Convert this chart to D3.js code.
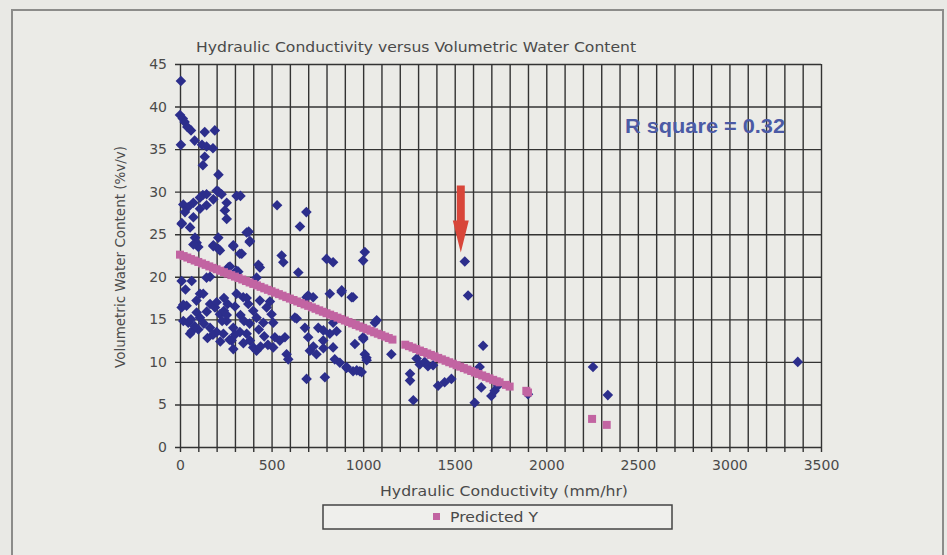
<!DOCTYPE html>
<html><head><meta charset="utf-8">
<script src="https://cdn.jsdelivr.net/npm/d3@7"></script>
<style>body{margin:0;background:#e9e9e5;overflow:hidden}</style>
</head><body>
<svg id="c" width="947" height="555"></svg>
<script>
// ---- data ----
const chartTitle = "Hydraulic Conductivity versus Volumetric Water Content";
const xTitle = "Hydraulic Conductivity (mm/hr)";
const yTitle = "Volumetric Water Content (%v/v)";
const legendLabel = "Predicted Y";
const annotation = "R square = 0.32";
const xTickLabels = [0, 500, 1000, 1500, 2000, 2500, 3000, 3500];
const yTickLabels = [0, 5, 10, 15, 20, 25, 30, 35, 40, 45];
const arrowTarget = [1555, 21.8];

// measured points [conductivity mm/hr, water content %v/v]
const measured = [
[5,43],[0,39],[15,38.6],[25,38.2],[40,37.6],[60,37.2],[135,37],[190,37.2],[5,35.5],[80,36],[120,35.5],[145,35.3],[180,35.1],[135,34.1],[125,33.1],[210,32],
[125,29.6],[210,30],[330,29.5],
[18,28.5],[45,28.2],[73,28.7],[109,29.3],[145,29.7],[182,29.1],[200,30.1],[227,29.7],[255,28.7],[309,29.5],
[27,27.6],[73,27],[109,28],[145,28.4],[245,27.8],[255,26.8],
[9,26.2],[55,25.8],[82,24.6],[91,24],[182,23.6],[209,23.3],[291,23.6],[327,22.7],[364,25.2],[382,24.2],[375,25.3],[380,24.1],[209,24.6],
[530,28.4],[690,27.6],[655,25.9],[10,26.3],
[555,22.5],[564,21.7],[436,21.1],[264,21.1],[309,20.7],[646,20.5],[800,22.1],[836,21.7],[1009,22.9],[1000,21.9],
[9,19.5],[64,19.5],[145,19.9],[418,19.9],[164,20],
[9,16.4],[36,16.6],[55,13.3],[109,18],[91,15.8],[109,15.2],[164,16.8],[191,16.4],[218,15.6],[164,14],[200,13.5],
[255,14.8],[291,14],[327,13.5],[282,12.5],[291,11.5],
[309,18],[345,17.6],[373,16.8],[400,16],[418,15.2],[455,14.6],
[364,13.3],[382,12.5],[400,11.7],[418,11.3],
[436,17.2],[473,16.4],[500,15.6],[509,14.6],[518,12.9],[509,11.7],
[545,12.5],[582,10.9],[591,10.3],[627,15.2],[691,17.6],[727,17.6],
[682,14],[700,12.9],[709,11.3],[745,10.9],[691,8],
[755,14],[782,12.5],[818,13.3],[836,11.7],[791,8.2],
[818,18],[882,18.2],[945,17.6],[836,14.6],[855,13.6],
[845,10.3],[873,9.9],[909,9.3],[945,8.9],[982,8.9],
[955,12.1],[1000,12.9],[1009,10.9],[1018,10.5],[1064,14.6],[1154,10.9],
[18,14.8],[45,14.6],[64,13.6],
[127,18],[364,17.5],[491,17.1],[700,17.8],[937,17.6],[18,16.7],[146,15.9],[255,15.5],[237,13.3],[346,12.2],[573,12.9],[637,15.1],[728,11.8],[783,13.7],[783,11.6],[910,9.4],[965,9],[992,8.8],[1001,12.7],[1019,10.2],[1074,14.9],[273,21.2],[318,20.6],[428,21.4],[100,23.5],[73,23.8],[182,23.7],[218,23.1],[291,23.7],[337,22.7],[883,18.4],
[100,13.8],[130,14.5],[230,14.8],[260,16.8],[240,17.5],[60,15],[80,14.2],[150,12.8],[180,13.2],[220,12.4],[300,16.5],[330,15.5],[350,14.8],[380,14.5],[430,13.8],[460,13],[480,12],[440,11.8],[300,13.2],[270,12.6],[90,17.2],[200,17],[240,16],[30,18.5],
[1256,8.6],[1256,7.8],[1274,5.5],[1292,10.4],[1309,9.7],[1336,10],[1354,9.5],[1382,9.6],[1409,7.2],[1445,7.6],[1482,8],
[1555,21.8],[1573,17.8],[1655,11.9],[1609,5.2],[1645,7],[1636,9.4],[1700,6],[1718,6.6],[1736,7.2],[1900,6.2],[2255,9.4],[2336,6.1],[3373,10]
];

// predicted points [conductivity, predicted Y] read along the pink band
const predicted = [
[0,22.6],[20,22.43],[40,22.26],[60,22.08],[80,21.91],[100,21.74],[120,21.57],[140,21.4],[160,21.22],[180,21.05],[200,20.88],[220,20.71],[240,20.54],[260,20.36],[280,20.19],[300,20.02],[320,19.85],[340,19.68],[360,19.5],[380,19.33],[400,19.16],[420,18.99],[440,18.82],[460,18.64],[480,18.47],[500,18.3],[520,18.13],[540,17.96],[560,17.78],[580,17.61],[600,17.44],[620,17.27],[640,17.1],[660,16.92],[680,16.75],[700,16.58],[720,16.41],[740,16.24],[760,16.06],[780,15.89],[800,15.72],[820,15.55],[840,15.38],[860,15.2],[880,15.03],[900,14.86],[920,14.69],[940,14.52],[960,14.34],[980,14.17],[1000,14.0],[1020,13.83],[1040,13.66],[1060,13.48],[1080,13.31],[1100,13.14],[1120,12.97],[1140,12.8],[1160,12.62],
[1230,12.02],[1250,11.85],[1270,11.68],[1290,11.51],[1310,11.33],[1330,11.16],[1350,10.99],[1370,10.82],[1390,10.65],[1410,10.47],[1430,10.3],[1450,10.13],[1470,9.96],[1490,9.79],[1510,9.61],[1530,9.44],[1550,9.27],[1570,9.1],[1590,8.93],[1610,8.75],[1630,8.58],[1650,8.41],[1670,8.24],[1690,8.07],[1710,7.89],[1730,7.72],[1745,7.6],
[1780,7.3],[1800,7.1],[1891,6.6],[1900,6.4],
[2250,3.3],[2330,2.6]
];

// ---- drawing ----
const W = 947, H = 555;
const M = {left:180, right:821, top:64, bottom:447};
const svg = d3.select("#c");
const FONT = "'DejaVu Sans', sans-serif";
const TXT = "#4a4a4a";

svg.append("rect").attr("width",W).attr("height",H).attr("fill","#e9e9e5");
svg.append("rect").attr("x",12).attr("y",10).attr("width",931).attr("height",570)
  .attr("fill","#ebebe7").attr("stroke","#8c8c8a").attr("stroke-width",2);

const x = d3.scaleLinear().domain([0,3500]).range([M.left, M.right]);
const y = d3.scaleLinear().domain([0,45]).range([M.bottom, M.top]);

const gridColor = "#333";
// vertical grid every 100 with 5px ticks below axis
const vGrid = svg.append("g").attr("transform",`translate(0,${M.bottom})`)
  .call(d3.axisBottom(x).tickValues(d3.range(0,3501,100)).tickSize(5).tickFormat(""));
vGrid.select(".domain").remove();
vGrid.selectAll(".tick line").attr("y1", -(M.bottom-M.top)).attr("y2",5)
  .attr("stroke",gridColor).attr("stroke-width",1.4);

// horizontal grid every 5 with 5px ticks left of axis
const hGrid = svg.append("g").attr("transform",`translate(${M.left},0)`)
  .call(d3.axisLeft(y).tickValues(yTickLabels).tickSize(5).tickFormat(""));
hGrid.select(".domain").remove();
hGrid.selectAll(".tick line").attr("x1",-5).attr("x2",M.right-M.left)
  .attr("stroke",gridColor).attr("stroke-width",1.4);

// axis labels
const xAx = svg.append("g").attr("transform",`translate(0,${M.bottom})`)
  .call(d3.axisBottom(x).tickValues(xTickLabels).tickSize(0).tickPadding(13).tickFormat(d3.format("d")));
xAx.select(".domain").remove();
xAx.selectAll("text").attr("font-family",FONT).attr("font-size",14).attr("fill",TXT);

const yAx = svg.append("g").attr("transform",`translate(${M.left},0)`)
  .call(d3.axisLeft(y).tickValues(yTickLabels).tickSize(0).tickPadding(13).tickFormat(d3.format("d")));
yAx.select(".domain").remove();
yAx.selectAll("text").attr("font-family",FONT).attr("font-size",14).attr("fill",TXT);

// titles
svg.append("text").attr("x",196).attr("y",52).text(chartTitle)
  .attr("font-family",FONT).attr("font-size",14.5).attr("fill",TXT)
  .attr("textLength",440).attr("lengthAdjust","spacingAndGlyphs");
svg.append("text").attr("x",504).attr("y",496).attr("text-anchor","middle").text(xTitle)
  .attr("font-family",FONT).attr("font-size",14.5).attr("fill",TXT)
  .attr("textLength",248).attr("lengthAdjust","spacingAndGlyphs");
svg.append("text").attr("transform","translate(125,257) rotate(-90)").attr("text-anchor","middle").text(yTitle)
  .attr("font-family",FONT).attr("font-size",13.5).attr("fill",TXT)
  .attr("textLength",222).attr("lengthAdjust","spacingAndGlyphs");

// measured (diamonds)
svg.append("g").selectAll("path").data(measured).join("path")
  .attr("transform",d=>`translate(${x(d[0])},${y(d[1])})`)
  .attr("d","M0,-5.3L5.3,0L0,5.3L-5.3,0Z").attr("fill","#2c2e8c");

// predicted (squares)
svg.append("g").selectAll("rect").data(predicted).join("rect")
  .attr("x",d=>x(d[0])-4).attr("y",d=>y(d[1])-4).attr("width",8).attr("height",8)
  .attr("fill","#c264a2");

// R square annotation
svg.append("text").attr("x",625).attr("y",133).text(annotation)
  .attr("font-family","'Liberation Sans', Arial, sans-serif").attr("font-weight","bold")
  .attr("font-size",20).attr("fill","#4b5aa5")
  .attr("textLength",160).attr("lengthAdjust","spacingAndGlyphs");

// red arrow pointing at the outlier
const ax = x(arrowTarget[0]) - 4, tip = y(arrowTarget[1]) - 9;
svg.append("path").attr("fill","#d8463a")
  .attr("d",`M${ax-4},${tip-67}L${ax+4},${tip-67}L${ax+4},${tip-32}L${ax+8},${tip-32}L${ax},${tip}L${ax-8},${tip-32}L${ax-4},${tip-32}Z`);

// legend
svg.append("rect").attr("x",323).attr("y",505).attr("width",349).attr("height",24)
  .attr("fill","#efefec").attr("stroke","#444").attr("stroke-width",1.5);
svg.append("rect").attr("x",433).attr("y",513).attr("width",7).attr("height",7).attr("fill","#c264a2");
svg.append("text").attr("x",450).attr("y",522).text(legendLabel)
  .attr("font-family",FONT).attr("font-size",14).attr("fill",TXT)
  .attr("textLength",88).attr("lengthAdjust","spacingAndGlyphs");
</script>
</body></html>
